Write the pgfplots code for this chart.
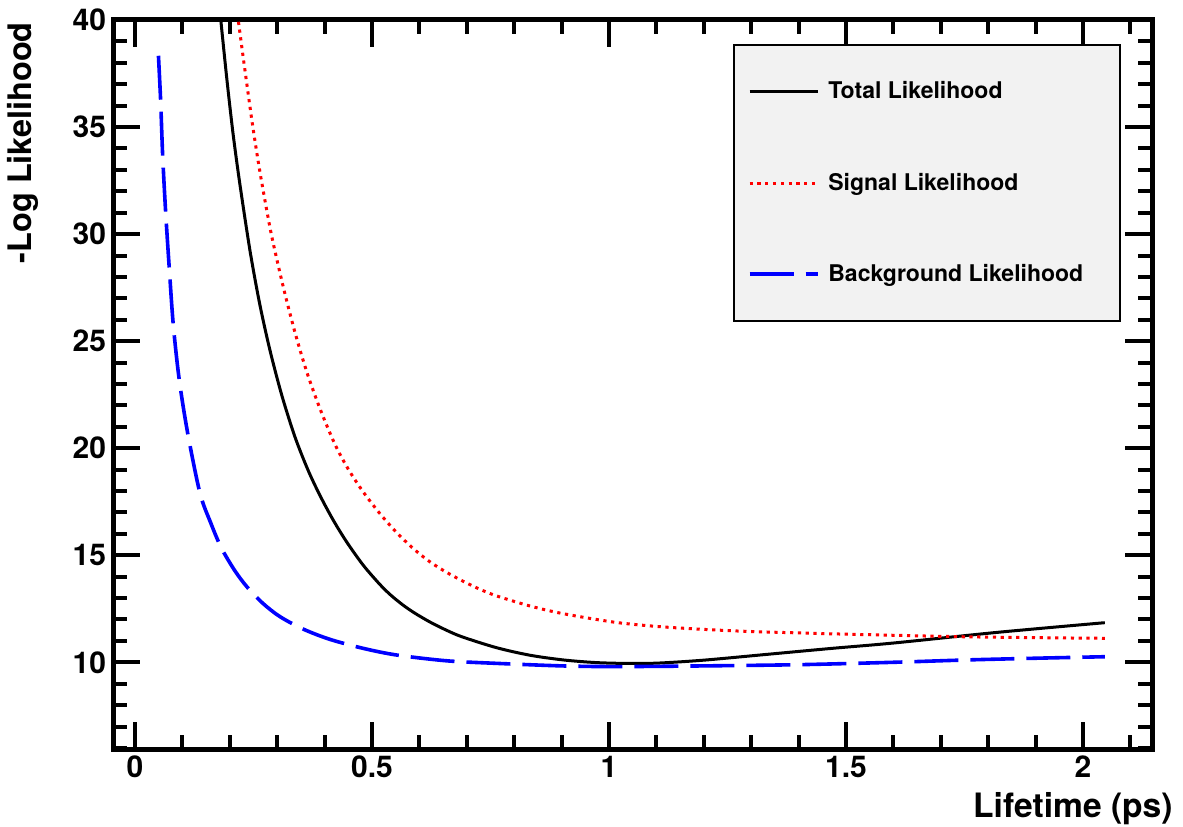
\documentclass[border=0pt]{standalone}
\usepackage{fontspec}
\setmainfont{TeX Gyre Heros}
\usepackage{pgfplots}
\pgfplotsset{compat=1.18}
\begin{document}
\begin{tikzpicture}
\useasboundingbox (0,0) rectangle (591.5pt,413pt);
\begin{axis}[
  at={(56.5pt,38.5pt)}, anchor=south west,
  scale only axis, width=519.5pt, height=364.5pt,
  xmin=-0.0464, xmax=2.1456, ymin=5.95, ymax=40,
  xtick={0,0.5,1,1.5,2},
  ytick={10,15,20,25,30,35,40},
  minor xtick={0,0.1,...,2.15},
  minor ytick={6,7,...,40},
  tick align=inside,
  xtick pos=both, ytick pos=both,
  xticklabel pos=lower, yticklabel pos=left,
  major tick length=13.5pt,
  minor tick length=7pt,
  major tick style={line width=2pt, black},
  minor tick style={line width=2pt, black},
  axis line style={line width=2.5pt},
  /pgf/number format/assume math mode=true,
  tick label style={font=\fontsize{15}{18}\selectfont\bfseries},
  xlabel={Lifetime (ps)},
  xlabel style={at={(rel axis cs:1,0)}, anchor=north east, inner sep=0pt,
    xshift=10.5pt, yshift=-21.5pt, font=\fontsize{16.8}{19}\selectfont\bfseries},
  ylabel={-Log Likelihood},
  ylabel style={at={(rel axis cs:-0.0712,0.9973)}, anchor=south east, inner sep=0pt,
    font=\fontsize{16.2}{19}\selectfont\bfseries},
  legend style={at={(rel axis cs:0.5967,0.967)}, anchor=north west,
    fill=black!5, draw=black, line width=0.8pt,
    inner xsep=7pt, inner ysep=16.5pt, row sep=31.5pt,
    font=\fontsize{11.5}{14}\selectfont\bfseries},
  legend cell align=left,
  legend image code/.code={\draw[#1, line cap=butt] (0pt,0pt) -- (34pt,0pt); \path (0pt,0pt) (36.5pt,0pt);},
]
\addplot[black, line width=1.5pt, smooth] coordinates {
(0.172,42.0) (0.181,40.0) (0.194,37.2) (0.207,34.67) (0.2215,32.3) (0.2426,29.23)
(0.263,26.75) (0.2848,24.57) (0.31,22.45) (0.3376,20.52) (0.365,18.98) (0.3903,17.79)
(0.418,16.65) (0.4466,15.62) (0.4817,14.53) (0.5169,13.63) (0.54,13.13) (0.565,12.68)
(0.59,12.3) (0.6224,11.88) (0.655,11.52) (0.69,11.19) (0.7631,10.68) (0.8333,10.33)
(0.9036,10.11) (0.97,9.99) (1.03,9.95) (1.10,9.96) (1.2,10.1) (1.333,10.37) (1.47,10.65)
(1.60,10.90) (1.82,11.4) (2.046,11.85)
};
\addlegendentry{Total Likelihood}
\addplot[red, line width=1.5pt, dash pattern=on 1.6pt off 2.3pt, smooth] coordinates {
(0.212,41.0) (0.218,39.96) (0.232,37.65) (0.248,35.1) (0.264,32.85) (0.285,30.28)
(0.30,28.75) (0.3165,27.2) (0.338,25.37) (0.3622,23.58) (0.39,21.86) (0.4219,20.18)
(0.45,19.02) (0.4817,17.95) (0.5169,16.94) (0.552,16.06) (0.5872,15.31) (0.6224,14.69)
(0.6575,14.2) (0.6927,13.78) (0.7278,13.41) (0.7631,13.10) (0.8333,12.63) (0.9036,12.27)
(1.016,11.86) (1.122,11.64) (1.262,11.47) (1.403,11.37) (1.508,11.31) (1.755,11.19) (2.046,11.12)
};
\addlegendentry{Signal Likelihood}
\addplot[blue, line width=1.8pt, dash pattern=on 22pt off 6pt, smooth] coordinates {
(0.0495,38.33) (0.0541,36.23) (0.0584,33.66) (0.0647,31.02) (0.0724,28.38) (0.0809,25.73)
(0.0935,23.17) (0.1112,20.7) (0.1371,17.9) (0.16,16.5) (0.182,15.35) (0.21,14.3)
(0.236,13.53) (0.27,12.75) (0.306,12.13) (0.355,11.55) (0.4114,11.07) (0.4817,10.65)
(0.552,10.34) (0.6575,10.07) (0.7631,9.95) (0.9036,9.83) (1.016,9.80) (1.192,9.83)
(1.403,9.89) (1.600,10.0) (1.755,10.11) (1.900,10.19) (2.046,10.26)
};
\addlegendentry{Background Likelihood\hspace*{9.5pt}}
\end{axis}
\end{tikzpicture}
\end{document}
